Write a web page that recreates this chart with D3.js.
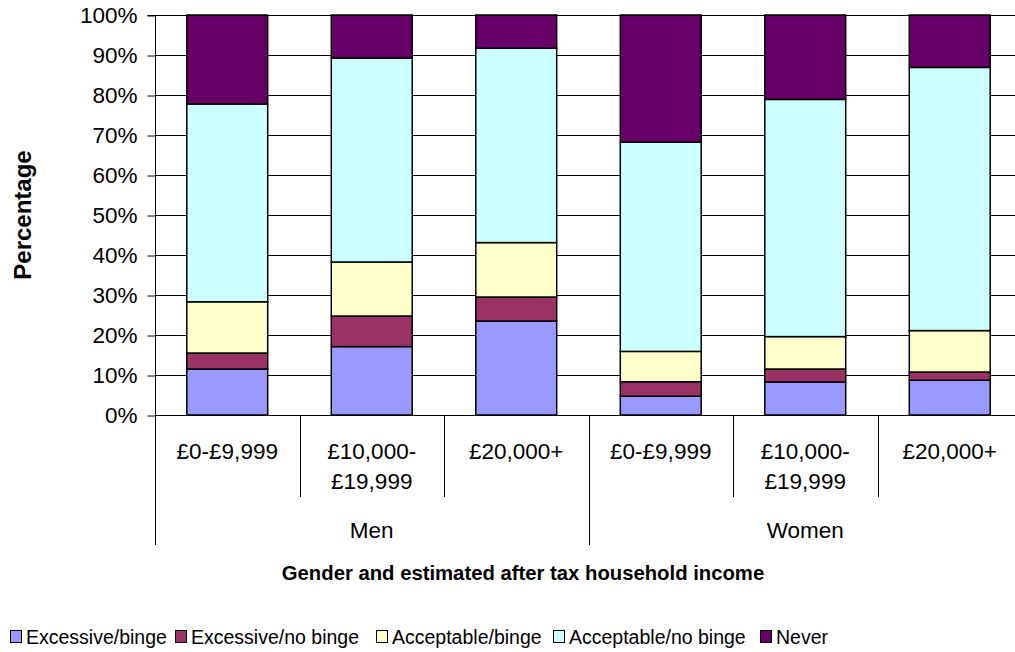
<!DOCTYPE html>
<html>
<head>
<meta charset="utf-8">
<script src="https://cdn.jsdelivr.net/npm/d3@7"></script>
<style>
  html, body { margin: 0; padding: 0; background: #fff; }
  svg { display: block; font-family: "Liberation Sans", Arial, sans-serif; }
</style>
</head>
<body>
<svg id="chart" width="1015" height="652"></svg>
<script>
// Income bands within each gender group
const incomeLabels = [["£0-£9,999"], ["£10,000-", "£19,999"], ["£20,000+"],
                      ["£0-£9,999"], ["£10,000-", "£19,999"], ["£20,000+"]];
const genders = ["Men", "Women"];
const barsPerGender = 3;

// Drinking categories (stack order, bottom to top)
const seriesNames = ["Excessive/binge", "Excessive/no binge", "Acceptable/binge", "Acceptable/no binge", "Never"];
const seriesColors = ["#9999FF", "#993366", "#FFFFCC", "#CCFFFF", "#660066"];

// Percentages per bar, one array per drinking category
const excessiveBinge     = [11.5, 17.1, 23.5, 4.7, 8.25, 8.7];
const excessiveNoBinge   = [4.0, 7.65, 6.0, 3.6, 3.25, 2.05];
const acceptableBinge    = [12.8, 13.5, 13.6, 7.6, 8.1, 10.35];
const acceptableNoBinge  = [49.45, 51.0, 48.6, 52.3, 59.3, 65.8];
const never              = [22.25, 10.75, 8.3, 31.8, 21.1, 13.1];

const yTicks = [0, 10, 20, 30, 40, 50, 60, 70, 80, 90, 100];

const seriesValues = [excessiveBinge, excessiveNoBinge, acceptableBinge, acceptableNoBinge, never];

const rows = incomeLabels.map((lab, i) => {
  const r = { idx: i };
  seriesNames.forEach((s, k) => { r[s] = seriesValues[k][i]; });
  return r;
});

const svg = d3.select("#chart");
const plot = { left: 155, right: 1022, top: 15, bottom: 415 };
const labelSize = 22.5;

const x = d3.scaleBand()
  .domain(d3.range(incomeLabels.length))
  .range([plot.left, plot.right])
  .padding(0);

const y = d3.scaleLinear().domain([0, 100]).range([plot.bottom, plot.top]);

const barW = x.bandwidth() * 0.56;

// Horizontal gridlines
svg.append("g")
  .selectAll("line")
  .data(yTicks.filter(t => t > 0))
  .join("line")
  .attr("x1", plot.left).attr("x2", plot.right)
  .attr("y1", d => Math.round(y(d)) + 0.5).attr("y2", d => Math.round(y(d)) + 0.5)
  .attr("stroke", "#000").attr("stroke-width", 1);

// Y axis with percentage ticks
const yAxis = d3.axisLeft(y)
  .tickValues(yTicks)
  .tickSize(8)
  .tickPadding(10)
  .tickFormat(d => d + "%");

const yg = svg.append("g")
  .attr("transform", `translate(${plot.left + 0.5},0.5)`)
  .call(yAxis);
yg.select(".domain").attr("stroke", "#000").attr("d", `M-8,${y(100)}H0V${y(0)}`);
yg.selectAll(".tick line").attr("stroke", "#000");
yg.selectAll(".tick text")
  .attr("font-size", labelSize)
  .attr("fill", "#000")
  .attr("font-family", "Liberation Sans, Arial, sans-serif");

// Stacked bars
const stack = d3.stack().keys(seriesNames);
const layers = stack(rows);

svg.append("g")
  .selectAll("g")
  .data(layers)
  .join("g")
  .attr("fill", (d, i) => seriesColors[i])
  .selectAll("rect")
  .data(d => d)
  .join("rect")
  .attr("x", d => x(d.data.idx) + (x.bandwidth() - barW) / 2)
  .attr("width", barW)
  .attr("y", d => y(d[1]))
  .attr("height", d => y(d[0]) - y(d[1]))
  .attr("stroke", "#000")
  .attr("stroke-width", 1.5);

// Category axis: baseline and separators
const cat = svg.append("g");
cat.append("line")
  .attr("x1", plot.left).attr("x2", plot.right)
  .attr("y1", plot.bottom + 0.5).attr("y2", plot.bottom + 0.5)
  .attr("stroke", "#000");

d3.range(incomeLabels.length + 1).forEach(i => {
  const xx = Math.round(i < incomeLabels.length ? x(i) : plot.right) + 0.5;
  const isGroupEdge = i % barsPerGender === 0;
  cat.append("line")
    .attr("x1", xx).attr("x2", xx)
    .attr("y1", plot.bottom).attr("y2", isGroupEdge ? 545 : 497)
    .attr("stroke", "#000");
});

// Income labels
incomeLabels.forEach((lines, i) => {
  const t = cat.append("text")
    .attr("x", x(i) + x.bandwidth() / 2)
    .attr("text-anchor", "middle")
    .attr("font-size", labelSize)
    .attr("fill", "#000");
  lines.forEach((ln, j) => {
    t.append("tspan").attr("x", x(i) + x.bandwidth() / 2).attr("y", 459 + j * 30).text(ln);
  });
});

// Gender labels
genders.forEach((g, gi) => {
  const x0 = x(gi * barsPerGender);
  const x1 = x(gi * barsPerGender + barsPerGender - 1) + x.bandwidth();
  cat.append("text")
    .attr("x", (x0 + x1) / 2).attr("y", 538)
    .attr("text-anchor", "middle")
    .attr("font-size", labelSize)
    .attr("fill", "#000")
    .text(g);
});

// Axis titles
svg.append("text")
  .attr("x", 523).attr("y", 580)
  .attr("text-anchor", "middle")
  .attr("font-size", 20.3)
  .attr("font-weight", "bold")
  .text("Gender and estimated after tax household income");

svg.append("text")
  .attr("transform", "translate(31,215) rotate(-90)")
  .attr("text-anchor", "middle")
  .attr("font-size", 24)
  .attr("font-weight", "bold")
  .text("Percentage");

// Legend
const legendX = [10, 175, 376, 553, 760];
const legend = svg.append("g");
seriesNames.forEach((s, i) => {
  const g = legend.append("g").attr("transform", `translate(${legendX[i]},0)`);
  g.append("rect")
    .attr("x", 0.5).attr("y", 630.5)
    .attr("width", 11).attr("height", 12)
    .attr("fill", seriesColors[i])
    .attr("stroke", "#000").attr("stroke-width", 1);
  g.append("text")
    .attr("x", 16).attr("y", 644)
    .attr("font-size", 19.5)
    .attr("fill", "#000")
    .text(s);
});
</script>
</body>
</html>
